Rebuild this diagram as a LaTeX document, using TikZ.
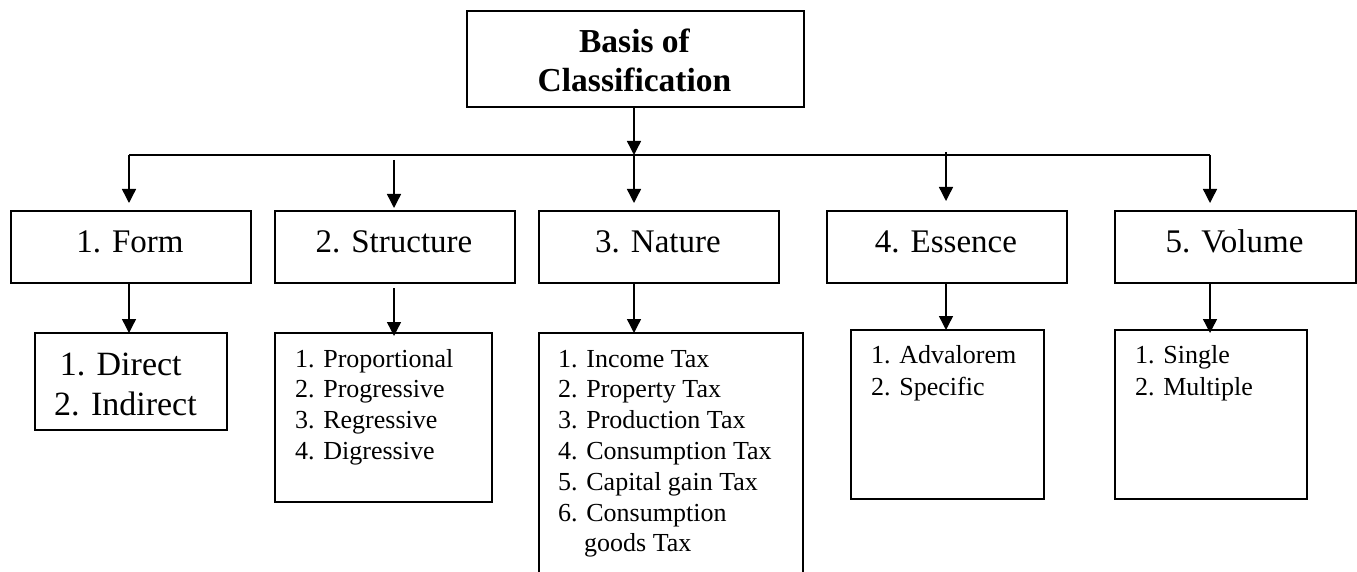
\documentclass[tikz,border=0pt]{standalone}
\usepackage{fontspec}
\setmainfont{Liberation Serif}
\usetikzlibrary{arrows.meta}
\begin{document}
\begin{tikzpicture}[x=1pt,y=-1pt,
  box/.style={draw, line width=1.6pt, rectangle, inner sep=0pt, anchor=north west},
  arr/.style={line width=1.4pt, -{Triangle[length=14pt,width=14pt]}},
  conn/.style={line width=1.4pt},
  lbl/.style={inner sep=0pt, anchor=base},
  lst/.style={inner sep=0pt, anchor=base west, font=\fontsize{26}{30.8}\selectfont},
]
\useasboundingbox (0,0) rectangle (1357,572);
\clip (0,0) rectangle (1357,572);
% boxes
\node[box, minimum width=337pt, minimum height=96pt] (top) at (466,10) {};
\node[box, minimum width=240pt, minimum height=72pt] (form) at (10,210) {};
\node[box, minimum width=240pt, minimum height=72pt] (structure) at (274,210) {};
\node[box, minimum width=240pt, minimum height=72pt] (nature) at (538,210) {};
\node[box, minimum width=240pt, minimum height=72pt] (essence) at (826,210) {};
\node[box, minimum width=241pt, minimum height=72pt] (volume) at (1114,210) {};
\node[box, minimum width=192pt, minimum height=97pt] (formsub) at (34,332) {};
\node[box, minimum width=217pt, minimum height=169pt] (structsub) at (274,332) {};
\node[box, minimum width=264pt, minimum height=270pt] (naturesub) at (538,332) {};
\node[box, minimum width=193pt, minimum height=169pt] (essencesub) at (850,329) {};
\node[box, minimum width=192pt, minimum height=169pt] (volumesub) at (1114,329) {};
% texts
\node[lbl, font=\fontsize{33.5}{39}\selectfont\bfseries] (toptext) at (634.5,53)
  {\begin{tabular}[t]{@{}c@{}}Basis of\\Classification\end{tabular}};
\node[lbl, font=\fontsize{33}{40}\selectfont] (formt) at (130,252) {1. Form};
\node[lbl, font=\fontsize{33}{40}\selectfont] (structuret) at (394,252) {2. Structure};
\node[lbl, font=\fontsize{33}{40}\selectfont] (naturet) at (658,252) {3. Nature};
\node[lbl, font=\fontsize{33}{40}\selectfont] (essencet) at (946,252) {4. Essence};
\node[lbl, font=\fontsize{33}{40}\selectfont] (volumet) at (1234.5,252) {5. Volume};
\node[lst, font=\fontsize{34}{40}\selectfont] (formlist) at (54,375)
  {\begin{tabular}[t]{@{}l@{}}\,1. Direct\\2. Indirect\end{tabular}};
\node[lst] (structlist) at (295,367)
  {\begin{tabular}[t]{@{}l@{}}1. Proportional\\2. Progressive\\3. Regressive\\4. Digressive\end{tabular}};
\node[lst] (naturelist) at (558,367)
  {\begin{tabular}[t]{@{}l@{}}1. Income Tax\\2. Property Tax\\3. Production Tax\\4. Consumption Tax\\5. Capital gain Tax\\6. Consumption\\\phantom{6.\ }goods Tax\end{tabular}};
\node[lst, font=\fontsize{26}{32}\selectfont] (essencelist) at (871,363)
  {\begin{tabular}[t]{@{}l@{}}1. Advalorem\\2. Specific\end{tabular}};
\node[lst, font=\fontsize{26}{32}\selectfont] (volumelist) at (1135,363)
  {\begin{tabular}[t]{@{}l@{}}1. Single\\2. Multiple\end{tabular}};
% coordinates
\coordinate (hub) at (634,155);
\coordinate (h1) at (129,155);
\coordinate (h5) at (1210,155);
\coordinate (s0) at (394,160);
\coordinate (e0) at (946,152);
\coordinate (f1) at (129,203);
\coordinate (s1) at (394,208);
\coordinate (n1) at (634,203);
\coordinate (e1) at (946,201);
\coordinate (v1) at (1210,203);
\coordinate (f2) at (129,282);
\coordinate (f3) at (129,333);
\coordinate (s2) at (394,288);
\coordinate (s3) at (394,336);
\coordinate (n2) at (634,282);
\coordinate (n3) at (634,333);
\coordinate (e2) at (946,282);
\coordinate (e3) at (946,330);
\coordinate (v2) at (1210,284);
\coordinate (v3) at (1210,333);
% connectors
\draw[arr] (top.south -| hub) -- (hub);
\draw[conn] (h1) -- (h5);
\draw[arr] (h1) -- (f1);
\draw[arr] (s0) -- (s1);
\draw[arr] (hub) -- (n1);
\draw[arr] (e0) -- (e1);
\draw[arr] (h5) -- (v1);
\draw[arr] (f2) -- (f3);
\draw[arr] (s2) -- (s3);
\draw[arr] (n2) -- (n3);
\draw[arr] (e2) -- (e3);
\draw[arr] (v2) -- (v3);
\end{tikzpicture}
\end{document}
